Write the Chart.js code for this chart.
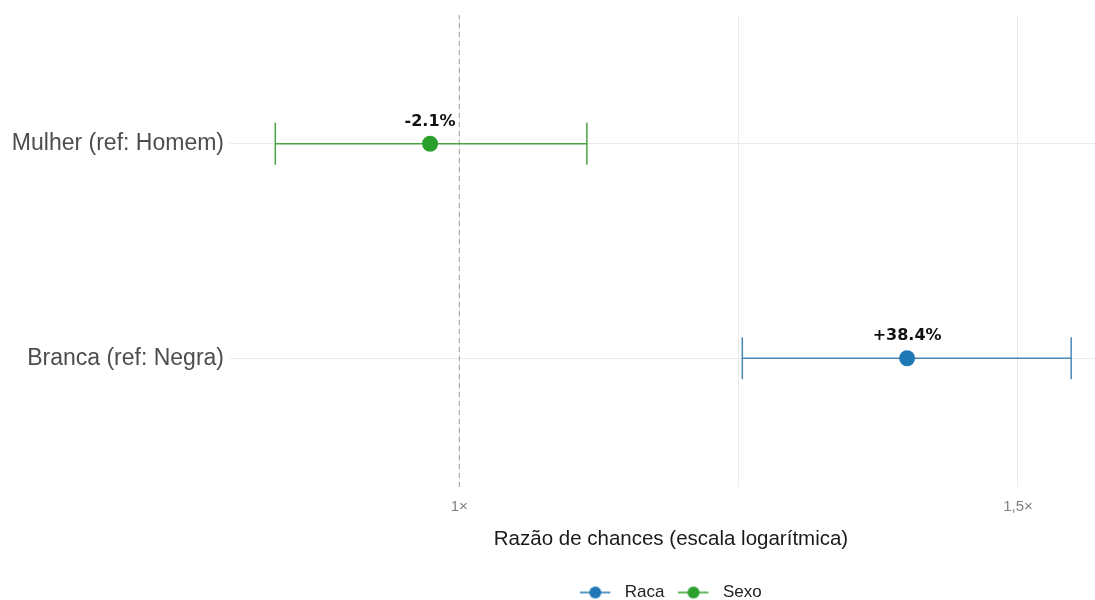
<!DOCTYPE html>
<html>
<head>
<meta charset="utf-8">
<script src="https://cdn.jsdelivr.net/npm/chart.js@4"></script>
<style>
  html, body { margin: 0; padding: 0; background: #fff; overflow: hidden; }
  /* panel runs a little past the right edge of the window, as in the original */
  #wrap { width: 1112px; height: 600px; }
</style>
</head>
<body>
<div id="wrap"><canvas id="chart"></canvas></div>
<script>
// data
const categories = ['Mulher (ref: Homem)', 'Branca (ref: Negra)'];
const groups = ['Sexo', 'Raca'];
const oddsRatio = [0.979, 1.384];
const ciLow = [0.875, 1.228];
const ciHigh = [1.097, 1.559];
const effectLabels = ['-2.1%', '+38.4%'];
const legendGroups = ['Raca', 'Sexo'];
const xTicks = [1, 1.2247, 1.5];
const xTickLabels = ['1×', '', '1,5×'];

const pointColors = { Raca: '#1f77b4', Sexo: '#2ca02c' };
const barColors = { Raca: '#4a87b5', Sexo: '#4aa540' };

const FONT = "'Liberation Sans', Arial, sans-serif";

// category i sits at y = n - i so the first one is at the top
const yOf = i => categories.length - i;

// legend key: short line with a dot, a bit of blank space on the right
function legendIcon(color) {
  const c = document.createElement('canvas');
  c.width = 36; c.height = 14;
  const g = c.getContext('2d');
  g.strokeStyle = color;
  g.lineWidth = 1.5;
  g.beginPath(); g.moveTo(0, 7); g.lineTo(30, 7); g.stroke();
  g.fillStyle = color;
  g.beginPath(); g.arc(15, 7, 6, 0, Math.PI * 2); g.fill();
  return c;
}

const datasets = [];

// points first in legend order
legendGroups.forEach(gr => {
  const i = groups.indexOf(gr);
  datasets.push({
    type: 'scatter',
    label: gr,
    data: [{ x: oddsRatio[i], y: yOf(i) }],
    pointRadius: 8,
    pointHoverRadius: 8,
    backgroundColor: pointColors[gr],
    borderColor: pointColors[gr],
    borderWidth: 0,
    order: 0,
    effect: effectLabels[i]
  });
});

// error bars with end caps
categories.forEach((c, i) => {
  const col = barColors[groups[i]];
  datasets.push({
    type: 'line',
    label: 'ci-' + i,
    data: [{ x: ciLow[i], y: yOf(i) }, { x: ciHigh[i], y: yOf(i) }],
    borderColor: col,
    borderWidth: 1.5,
    pointStyle: 'line',
    rotation: 90,
    pointRadius: 21,
    pointHoverRadius: 21,
    pointBorderColor: col,
    pointBorderWidth: 1.5,
    order: 1
  });
});

// dashed reference line at 1x
datasets.push({
  type: 'line',
  label: 'ref',
  data: [{ x: 1, y: 0.4 }, { x: 1, y: 2.6 }],
  borderColor: '#a0a0a0',
  borderWidth: 1,
  borderDash: [5, 4],
  pointRadius: 0,
  order: 2
});

const effectText = {
  id: 'effectText',
  afterDatasetsDraw(chart) {
    const ctx = chart.ctx;
    ctx.save();
    ctx.font = "bold 16px 'DejaVu Sans', sans-serif";
    ctx.fillStyle = '#111';
    ctx.textAlign = 'center';
    ctx.textBaseline = 'middle';
    chart.data.datasets.forEach((ds, di) => {
      if (!ds.effect) return;
      const pt = chart.getDatasetMeta(di).data[0];
      ctx.fillText(ds.effect, pt.x, pt.y - 22);
    });
    ctx.restore();
  }
};

new Chart(document.getElementById('chart'), {
  type: 'scatter',
  data: { datasets },
  plugins: [effectText],
  options: {
    responsive: true,
    maintainAspectRatio: false,
    animation: false,
    layout: { autoPadding: false, padding: { top: 15, right: 0, left: 0, bottom: -11 } },
    plugins: {
      tooltip: { enabled: false },
      legend: {
        position: 'bottom',
        fullSize: false,
        labels: {
          usePointStyle: true,
          pointStyleWidth: 36,
          boxHeight: 14,
          padding: 14,
          font: { family: FONT, size: 17 },
          color: '#222',
          generateLabels: () => legendGroups.map((g, k) => ({
            text: g,
            pointStyle: legendIcon(pointColors[g]),
            fillStyle: pointColors[g],
            strokeStyle: pointColors[g],
            lineWidth: 0,
            hidden: false,
            fontColor: '#222',
            datasetIndex: k
          }))
        }
      }
    },
    scales: {
      x: {
        type: 'logarithmic',
        min: 0.8467,
        max: 1.6059,
        afterBuildTicks: s => { s.ticks = xTicks.map(v => ({ value: v })); },
        afterFit: s => { s.height = 83; s.paddingLeft = 0; s.paddingRight = 0; },
        ticks: {
          autoSkip: false,
          maxRotation: 0,
          padding: 11,
          font: { family: FONT, size: 15 },
          color: '#7f7f7f',
          callback: (v, i) => xTickLabels[i]
        },
        grid: { color: '#ebebeb', lineWidth: 1, drawTicks: false },
        border: { display: false },
        title: {
          display: true,
          text: 'Razão de chances (escala logarítmica)',
          font: { family: FONT, size: 20.5 },
          color: '#1a1a1a',
          padding: { top: 0, bottom: 18 }
        }
      },
      y: {
        type: 'linear',
        min: 0.4,
        max: 2.6,
        afterBuildTicks: s => { s.ticks = categories.map((c, i) => ({ value: yOf(i) })); },
        afterFit: s => { s.width = 230; s.paddingTop = 0; s.paddingBottom = 0; },
        ticks: {
          autoSkip: false,
          padding: 6,
          font: { family: FONT, size: 23 },
          color: '#4d4d4d',
          callback: v => categories[categories.length - v]
        },
        grid: { color: '#ebebeb', lineWidth: 1, drawTicks: false },
        border: { display: false }
      }
    }
  }
});
</script>
</body>
</html>
